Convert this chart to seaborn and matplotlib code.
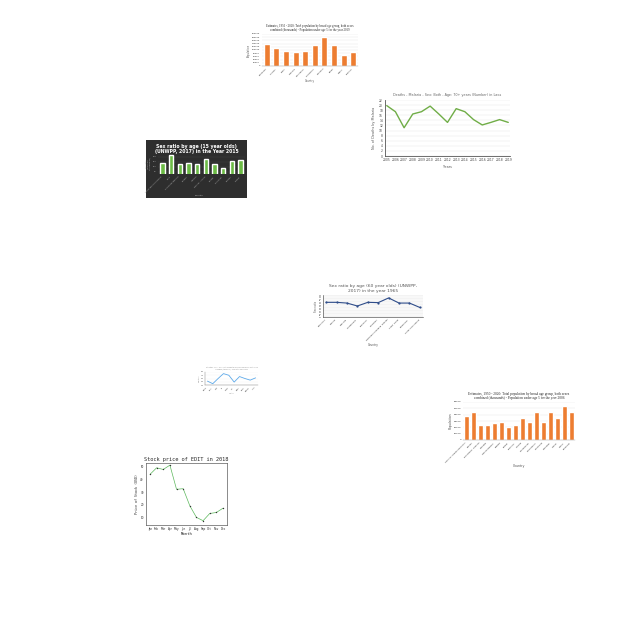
import matplotlib
matplotlib.use("Agg")
import matplotlib.pyplot as plt
import seaborn as sns
import pandas as pd

sns.set_theme(style="white")
plt.rcParams['font.family'] = ['DejaVu Sans']

# ---------------- data ----------------
c1_countries = ["Botswana", "Lesotho", "Nepal", "Namibia", "Mauritania", "Kyrgyzstan",
                "Mongolia", "Oman", "Gabon", "Eswatini"]
c1_values = [140000, 115000, 92000, 85000, 95000, 130000, 180000, 130000, 70000, 90000]
c1_title = ("Estimates, 1950 - 2020: Total population by broad age group, both sexes\n"
            "combined (thousands) - Population under age 5 for the year 2019")

c2_years = [2005, 2006, 2007, 2008, 2009, 2010, 2011, 2012, 2013, 2014, 2015, 2016, 2017, 2018, 2019]
c2_deaths = [19.8, 17.4, 11.1, 16.5, 17.4, 19.6, 16.5, 13.2, 18.6, 17.4, 14.3, 12.2, 13.2, 14.3, 13.2]
c2_title = "Deaths - Malaria - Sex: Both - Age: 70+ years (Number) in Laos"

c3_countries = ["Bosnia and Herzegovina", "Chile", "Dominican Republic", "Guyana", "Jamaica",
                "Marshall Islands", "Norway", "Seychelles", "Uganda", "Zambia"]
c3_values = [101.5, 104.5, 101.0, 101.5, 101.0, 103.0, 101.0, 99.5, 102.2, 102.5]
c3_title = "Sex ratio by age (15 year olds)\n(UNWPP, 2017) in the Year 2015"

c4_countries = ["Comoros", "Cyprus", "Czechia", "Guatemala", "Lebanon", "Maldives",
                "Northern Mariana Islands", "Saint Lucia", "Suriname", "Turks and Caicos"]
c4_values = [90.0, 90.0, 89.5, 87.5, 90.0, 89.8, 93.0, 89.5, 89.5, 86.5]
c4_title = "Sex ratio by age (60 year olds) (UNWPP,\n2017) in the year 1965"

c5_countries = ["Angola", "Belize", "Chad", "Fiji", "Ghana", "Haiti", "Kenya", "Malawi", "Panama", "Togo"]
c5_values = [52, 44, 60, 75, 70, 49, 66, 60, 55, 62]
c5_title = "Estimates, 1950 - 2020: Total population by broad age group, both sexes\ncombined (thousands) - Population aged 15-24"

c6_countries = ["Central African Republic", "Congo", "Equatorial Guinea", "Gambia", "Guinea-Bissau",
                "Kuwait", "Latvia", "Lesotho", "Liberia", "Macedonia", "Mauritania", "Mongolia",
                "Namibia", "Oman", "Qatar", "Slovenia"]
c6_values = [38000, 45000, 24000, 24000, 26500, 28000, 21000, 24000, 35500, 29000, 44000, 29000,
             44000, 35500, 54000, 44000]
c6_title = ("Estimates, 1950 - 2020: Total population by broad age group, both sexes\n"
            "combined (thousands) - Population under age 5 for the year 2006")

c7_months = ["Jan", "Feb", "Mar", "Apr", "May", "Jun", "Jul", "Aug", "Sep", "Oct", "Nov", "Dec"]
c7_prices = [44.0, 49.2, 47.9, 51.3, 32.2, 32.7, 19.2, 10.0, 7.4, 13.1, 13.9, 17.3]
c7_title = "Stock price of EDIT in 2018"

# ---------------- figure ----------------
W = H = 640
fig = plt.figure(figsize=(6.4, 6.4), dpi=100)
fig.patch.set_facecolor("white")


def box(x0, y0, x1, y1):
    return fig.add_axes([x0 / W, 1 - y1 / H, (x1 - x0) / W, (y1 - y0) / H])


def tiny(ax, fs=1.8, rot=45):
    ax.tick_params(axis="both", labelsize=fs, length=0.8, width=0.3, pad=0.6)
    for lab in ax.get_xticklabels():
        lab.set_rotation(rot)
        lab.set_ha("right")


# ---- chart 1 : orange bars (top) ----
ax1 = box(262, 34, 358, 66)
df1 = pd.DataFrame({"Country": c1_countries, "Population": c1_values})
sns.barplot(data=df1, x="Country", y="Population", color="#ED7D31", ax=ax1, width=0.62, saturation=1)
ax1.set_ylim(0, 200000)
ax1.set_yticks(range(0, 200001, 20000))
ax1.yaxis.grid(True, color="#e6e6e6", linewidth=0.3)
ax1.set_axisbelow(True)
for s in ax1.spines.values():
    s.set_visible(False)
ax1.spines["bottom"].set_visible(True)
ax1.spines["bottom"].set_linewidth(0.3)
ax1.spines["bottom"].set_color("#999999")
tiny(ax1, 1.5)
ax1.set_title(c1_title, fontsize=2.2, family="Liberation Serif", pad=2)
ax1.set_xlabel("Country", fontsize=1.8, labelpad=1, color="#555555")
ax1.set_ylabel("Population", fontsize=1.8, labelpad=1, color="#555555")

# ---- chart 2 : green line ----
ax2 = box(385, 100, 510, 156)
df2 = pd.DataFrame({"Years": c2_years, "Deaths": c2_deaths})
sns.lineplot(data=df2, x="Years", y="Deaths", color="#70AD47", linewidth=1.0, ax=ax2)
ax2.set_ylim(0, 22)
ax2.set_yticks(range(0, 23, 2))
ax2.set_xticks(c2_years)
ax2.set_xlim(2004.8, 2019.2)
ax2.yaxis.grid(True, color="#e3e3e3", linewidth=0.3)
for s in ["top", "right"]:
    ax2.spines[s].set_visible(False)
ax2.spines["left"].set_linewidth(0.6)
ax2.spines["left"].set_color("#555555")
ax2.spines["bottom"].set_linewidth(0.6)
ax2.spines["bottom"].set_color("#555555")
ax2.tick_params(axis="both", labelsize=2.2, length=0, pad=1.5, colors="#444444")
ax2.set_title(c2_title, fontsize=2.4, color="#666666", pad=3)
ax2.set_xlabel("Years", fontsize=2.4, labelpad=2, color="#555555")
ax2.set_ylabel("No. of Deaths by Malaria", fontsize=2.4, labelpad=2, color="#555555")

# ---- chart 3 : dark background green bars ----
bg3 = box(146, 140, 247, 198)
bg3.set_facecolor("#2e2e2e")
bg3.set_xticks([])
bg3.set_yticks([])
for s in bg3.spines.values():
    s.set_visible(False)
bg3.text(0.5, 0.93, c3_title, transform=bg3.transAxes, ha="center", va="top",
         color="white", fontsize=3.3, fontweight="bold", linespacing=1.1)
bg3.text(0.53, 0.04, "Country", transform=bg3.transAxes, ha="center", va="bottom",
         color="#bbbbbb", fontsize=1.6)
ax3 = box(158, 153, 245, 174)
ax3.set_facecolor("none")
df3 = pd.DataFrame({"Country": c3_countries, "Ratio": c3_values})
sns.barplot(data=df3, x="Country", y="Ratio", color="#6CBB45", ax=ax3, width=0.5, saturation=1)
ax3.set_ylim(97, 105.5)
for s in ax3.spines.values():
    s.set_visible(False)
ax3.yaxis.grid(True, color="#444444", linewidth=0.3)
ax3.set_axisbelow(True)
tiny(ax3, 1.4)
ax3.tick_params(colors="#bbbbbb")
ax3.set_xlabel("")
ax3.set_ylabel("Sex ratio\n(males per\n100 females)", fontsize=1.4, color="#bbbbbb", labelpad=1)

# ---- chart 4 : navy line with markers ----
ax4 = box(323, 295, 423, 317)
df4 = pd.DataFrame({"Country": c4_countries, "Ratio": c4_values})
sns.lineplot(data=df4, x="Country", y="Ratio", color="#2F4D8A", linewidth=0.8, marker="o",
             markersize=1.6, markeredgewidth=0, ax=ax4, sort=False)
ax4.set_ylim(80, 95)
ax4.set_yticks(range(80, 96, 1))
ax4.yaxis.grid(True, color="#e0e0e0", linewidth=0.3)
for s in ["top", "right"]:
    ax4.spines[s].set_visible(False)
ax4.spines["left"].set_linewidth(0.4)
ax4.spines["bottom"].set_linewidth(0.4)
ax4.spines["left"].set_color("#333333")
ax4.spines["bottom"].set_color("#333333")
tiny(ax4, 1.7)
ax4.tick_params(axis="y", labelsize=1.0)
ax4.set_xlim(-0.3, 9.3)
ax4.set_title(c4_title, fontsize=3.2, color="#555555", pad=2.5)
ax4.set_xlabel("Country", fontsize=2.0, color="#555555", labelpad=1)
ax4.set_ylabel("Sex ratio", fontsize=1.8, color="#555555", labelpad=1)

# ---- chart 5 : small light-blue line ----
ax5 = box(205, 372, 258, 385)
df5 = pd.DataFrame({"Country": c5_countries, "Value": c5_values})
sns.lineplot(data=df5, x="Country", y="Value", color="#5DA9E9", linewidth=0.6, ax=ax5, sort=False)
ax5.set_ylim(40, 80)
ax5.yaxis.grid(True, color="#eeeeee", linewidth=0.2)
for s in ["top", "right"]:
    ax5.spines[s].set_visible(False)
ax5.spines["left"].set_linewidth(0.3)
ax5.spines["bottom"].set_linewidth(0.3)
ax5.spines["left"].set_color("#777777")
ax5.spines["bottom"].set_color("#777777")
tiny(ax5, 0.9)
ax5.set_title(c5_title, fontsize=1.0, color="#888888", pad=1.5)
ax5.set_xlabel("Country", fontsize=1.0, color="#888888", labelpad=1)
ax5.set_ylabel("Population", fontsize=1.0, color="#888888", labelpad=1)

# ---- chart 6 : orange bars (bottom right) ----
ax6 = box(463, 402, 575, 440)
df6 = pd.DataFrame({"Country": c6_countries, "Population": c6_values})
sns.barplot(data=df6, x="Country", y="Population", color="#ED7D31", ax=ax6, width=0.6, saturation=1)
ax6.set_ylim(0, 60000)
ax6.set_yticks(range(0, 60001, 10000))
ax6.yaxis.grid(True, color="#e6e6e6", linewidth=0.3)
ax6.set_axisbelow(True)
for s in ax6.spines.values():
    s.set_visible(False)
ax6.spines["bottom"].set_visible(True)
ax6.spines["bottom"].set_linewidth(0.3)
ax6.spines["bottom"].set_color("#999999")
tiny(ax6, 1.7)
ax6.set_title(c6_title, fontsize=2.5, family="Liberation Serif", pad=2)
ax6.set_xlabel("Country", fontsize=2.3, labelpad=1, color="#555555")
ax6.set_ylabel("Population", fontsize=2.3, labelpad=1, color="#555555")

# ---- chart 7 : stock price ----
ax7 = box(146, 463, 227, 525)
df7 = pd.DataFrame({"Month": c7_months, "Price": c7_prices})
sns.lineplot(data=df7, x="Month", y="Price", color="#5CB85C", linewidth=0.5, marker="o",
             markersize=1.0, markerfacecolor="#333333", markeredgewidth=0, ax=ax7, sort=False)
ax7.set_xlim(-0.6, 11.6)
ax7.set_ylim(4, 53)
ax7.set_yticks([10, 20, 30, 40, 50])
for s in ax7.spines.values():
    s.set_linewidth(0.4)
    s.set_color("#333333")
ax7.tick_params(axis="both", labelsize=2.0, length=0.8, width=0.3, pad=0.8)
ax7.set_title(c7_title, fontsize=3.8, family="DejaVu Sans Mono", pad=1.5)
ax7.set_xlabel("Month", fontsize=2.8, family="DejaVu Sans Mono", labelpad=0.5)
ax7.set_ylabel("Price of Stock (USD)", fontsize=2.4, family="DejaVu Sans Mono", labelpad=1)

fig.savefig("out.png", dpi=100, facecolor="white")
